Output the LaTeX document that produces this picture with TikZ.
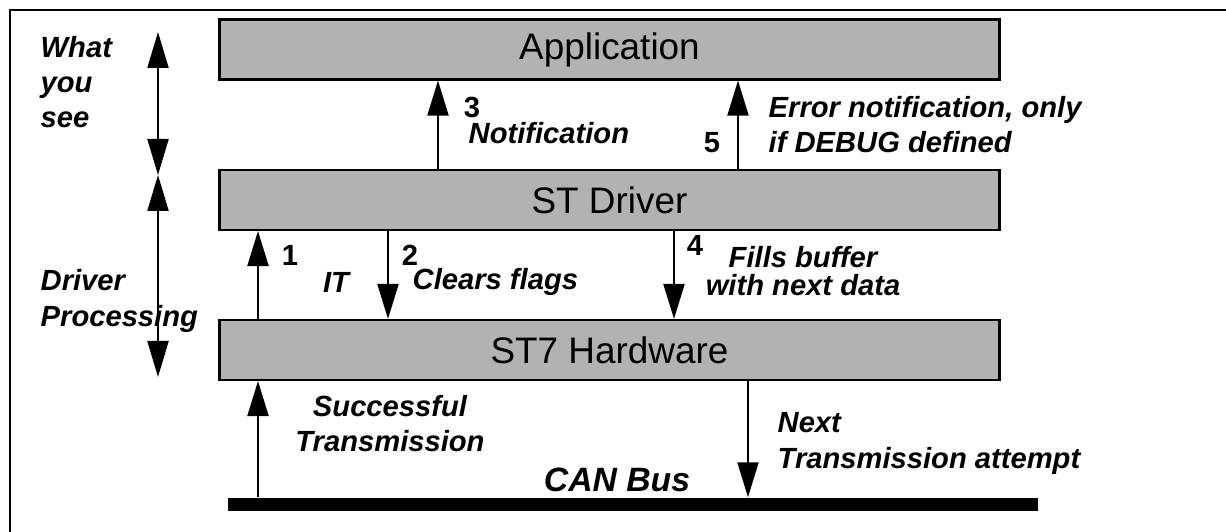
\documentclass[tikz,border=0pt]{standalone}
\usepackage{fontspec}
\setmainfont{Liberation Sans}
\usepackage{tikz}
\usetikzlibrary{arrows.meta,positioning}

\begin{document}
\begin{tikzpicture}[x=1cm,y=1cm]%
\useasboundingbox (0,0) rectangle (12.26,5.32);
\tikzstyle{layer}=[draw,semithick,fill=black!30,minimum width=7.8cm,minimum height=.6cm,inner sep=0pt,font=\fontsize{10.5}{12}\selectfont] %%
\tikzstyle{lbl}=[inner sep=0pt,font=\fontsize{8.3}{10}\selectfont\bfseries\itshape] %%
\tikzstyle{num}=[inner sep=0pt,font=\fontsize{8.3}{10}\selectfont\bfseries] %%
\tikzstyle{arr}=[semithick,-{Triangle[length=3.5mm,width=2.1mm]}] %%
\tikzstyle{dbl}=[semithick,{Triangle[length=3.6mm,width=2.1mm]}-{Triangle[length=3.6mm,width=2.1mm]}] %%
\draw[thick] (0.10,0)--(0.10,5.22)--(12.26,5.22);
\node[layer] (app) at (6.095,4.825) {Application}; %%
\node[layer] (drv) at (6.095,3.32) {ST Driver}; %%
\node[layer] (hw) at (6.095,1.82) {ST7 Hardware}; %%
\node[fill=black,minimum width=8.1cm,minimum height=.13cm,inner sep=0pt] (bus) at (6.33,.275) {}; %%
\coordinate (x1) at (2.58,0); %%
\coordinate (x2) at (3.88,0); %%
\coordinate (x3) at (4.38,0); %%
\coordinate (x4) at (6.74,0); %%
\coordinate (x5) at (7.38,0); %%
\coordinate (x6) at (7.48,0); %%
\coordinate (wys) at (1.58,5.00); %%
\coordinate (mid) at (1.58,3.57); %%
\coordinate (prc) at (1.58,1.55); %%
\draw[dbl] (wys)--(mid); %%
\draw[dbl] (mid)--(prc); %%
\draw[arr] (drv.north -| x3)--(app.south -| x3); %%
\draw[arr] (drv.north -| x5)--(app.south -| x5); %%
\draw[arr] (hw.north -| x1)--(drv.south -| x1); %%
\draw[arr] (drv.south -| x2)--(hw.north -| x2); %%
\draw[arr] (drv.south -| x4)--(hw.north -| x4); %%
\draw[arr] (bus.north -| x1)--(hw.south -| x1); %%
\draw[arr] (hw.south -| x6)--(bus.north -| x6); %%
\node[lbl,anchor=west,align=left] (wyslbl) at (0.40,4.50) {What\\you\\see}; %%
\node[lbl,anchor=west,align=left] (dplbl) at (0.40,2.31) {Driver\\Processing}; %%
\node[num] (n3) at (4.72,4.25) {3}; %%
\node[lbl,anchor=west] (notif) at (4.68,3.99) {Notification}; %%
\node[num] (n5) at (7.12,3.89) {5}; %%
\node[lbl,anchor=west,align=left] (err) at (7.68,4.07) {Error notification, only\\if DEBUG defined}; %%
\node[num] (n1) at (2.90,2.77) {1}; %%
\node[lbl] (it) at (3.36,2.50) {IT}; %%
\node[num] (n2) at (4.10,2.77) {2}; %%
\node[lbl,anchor=west] (clr) at (4.12,2.50) {Clears flags}; %%
\node[num] (n4) at (6.95,2.87) {4}; %%
\node[lbl,align=center] (fills) at (8.03,2.61) {Fills buffer\\[-2pt]with next data}; %%
\node[lbl,align=center] (succ) at (3.90,1.08) {Successful\\Transmission}; %%
\node[lbl,anchor=west,align=left] (next) at (7.77,0.885) {Next\\Transmission attempt}; %%
\node[lbl,font=\fontsize{9.6}{11}\selectfont\bfseries\itshape] (can) at (6.17,0.52) {CAN Bus}; %%
\end{tikzpicture}
\end{document}
